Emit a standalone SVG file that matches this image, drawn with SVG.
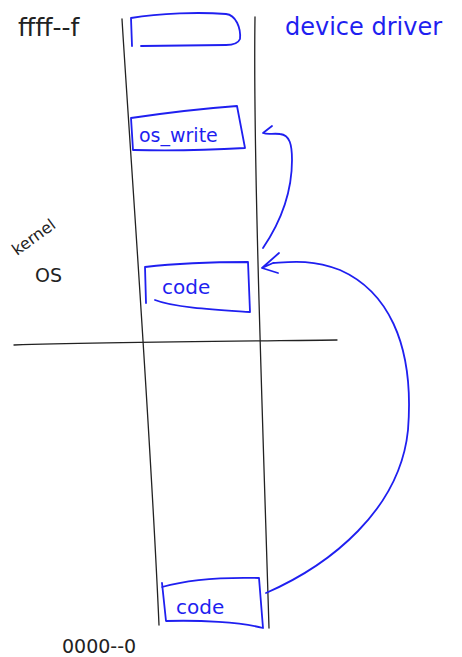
<svg xmlns="http://www.w3.org/2000/svg" width="462" height="657" viewBox="0 0 462 657">
<style>
.ink{fill:none;stroke:#222;stroke-width:1.3;stroke-linecap:round;stroke-linejoin:round}
.blue{fill:none;stroke:#1f1ff0;stroke-width:1.8;stroke-linecap:round;stroke-linejoin:round}
.tb{font-family:"DejaVu Sans","Liberation Sans",sans-serif;fill:#1f1ff0}
.tk{font-family:"DejaVu Sans","Liberation Sans",sans-serif;fill:#222}
</style>
<rect width="462" height="657" fill="#fff"/>
<g id="memory-column">
<path class="ink" d="M122,19 C130,150 150,420 159,625"/>
<path class="ink" d="M255,17 C253,150 262,400 269,628"/>
</g>
<g id="kernel-user-boundary">
<path class="ink" d="M14,345 C100,342 250,341 337,340"/>
</g>
<g id="top-box">
<path class="blue" d="M132,46 L131,18 C160,13 200,12 226,14 C236,15 241,28 240,39 C238,44 232,45 226,45 L141,46"/>
</g>
<g id="os-write">
<path class="blue" d="M133,150 L131,118 C165,113 210,108 237,106 L245,148 C210,150 170,151 134,150"/>
<text class="tb" x="139" y="142" font-size="19">os_write</text>
</g>
<g id="code-kernel">
<path class="blue" d="M146,303 L145,267 C180,263 220,262 248,262 L250,312 C220,310 175,308 155,300"/>
<text class="tb" x="162" y="294" font-size="20">code</text>
</g>
<g id="code-user">
<path class="blue" d="M162,583 L166,621 C200,620 240,622 263,628 L259,578 C220,577 190,579 162,587"/>
<text class="tb" x="176" y="614" font-size="20">code</text>
</g>
<g id="connectors">
<path class="blue" d="M263,248 C282,220 292,190 292,160 C292,145 290,135 280,134 C273,133 268,135 263,133 L272,126"/>
<path class="blue" d="M266,593 C330,565 400,510 408,430 C415,340 385,290 340,270 C310,259 290,262 273,263 L262,268 L278,273 M262,268 L279,253"/>
</g>
<g id="labels">
<text class="tk" x="18" y="36" font-size="25">ffff--f</text>
<text class="tb" x="285" y="35" font-size="24">device driver</text>
<text class="tk" x="0" y="0" font-size="16" transform="translate(17,256) rotate(-36)">kernel</text>
<text class="tk" x="35" y="282" font-size="19">OS</text>
<text class="tk" x="62" y="653" font-size="19">0000--0</text>
</g>
</svg>
